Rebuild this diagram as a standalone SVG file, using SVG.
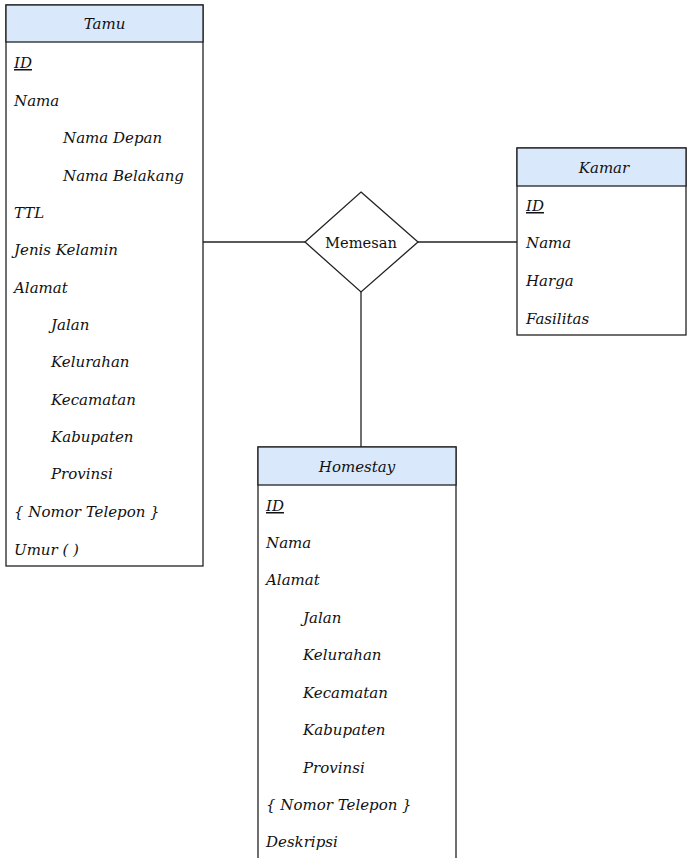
<svg xmlns="http://www.w3.org/2000/svg" width="687" height="858" viewBox="0 0 687 858">
  <style>
    .box { fill: #ffffff; stroke: #222222; stroke-width: 1.3; }
    .head { fill: #dae8fc; stroke: #222222; stroke-width: 1.3; }
    .t { font-family: "DejaVu Serif", "Liberation Serif", serif; font-style: italic; font-size: 15px; fill: #111111; }
    .h { text-anchor: middle; }
    .u { text-decoration: underline; }
    .rel { font-family: "DejaVu Serif", "Liberation Serif", serif; font-size: 14.7px; fill: #111111; text-anchor: middle; }
    .ln { stroke: #222222; stroke-width: 1.3; fill: none; }
  </style>

  <g id="connectors">
    <line class="ln" x1="203" y1="242" x2="305" y2="242"/>
    <line class="ln" x1="418" y1="242" x2="517" y2="242"/>
    <line class="ln" x1="361" y1="292" x2="361" y2="447"/>
  </g>

  <g id="tamu">
    <rect class="box" x="6" y="5" width="197" height="561"/>
    <rect class="head" x="6" y="5" width="197" height="37"/>
    <text class="t h" x="104.5" y="29">Tamu</text>
    <text class="t u" x="14" y="68">ID</text>
    <text class="t" x="14" y="106">Nama</text>
    <text class="t" x="63" y="143">Nama Depan</text>
    <text class="t" x="63" y="181">Nama Belakang</text>
    <text class="t" x="14" y="218">TTL</text>
    <text class="t" x="14" y="255">Jenis Kelamin</text>
    <text class="t" x="14" y="293">Alamat</text>
    <text class="t" x="51" y="330">Jalan</text>
    <text class="t" x="51" y="367">Kelurahan</text>
    <text class="t" x="51" y="405">Kecamatan</text>
    <text class="t" x="51" y="442">Kabupaten</text>
    <text class="t" x="51" y="479">Provinsi</text>
    <text class="t" x="14" y="517">{ Nomor Telepon }</text>
    <text class="t" x="14" y="555">Umur ( )</text>
  </g>

  <g id="kamar">
    <rect class="box" x="517" y="148" width="169" height="187"/>
    <rect class="head" x="517" y="148" width="169" height="38"/>
    <text class="t h" x="604" y="173">Kamar</text>
    <text class="t u" x="526" y="211">ID</text>
    <text class="t" x="526" y="248">Nama</text>
    <text class="t" x="526" y="286">Harga</text>
    <text class="t" x="526" y="324">Fasilitas</text>
  </g>

  <g id="memesan">
    <polygon class="box" points="361,192 418,242 361,292 305,242"/>
    <text class="rel" x="361" y="248">Memesan</text>
  </g>

  <g id="homestay">
    <rect class="box" x="258" y="447" width="198" height="430"/>
    <rect class="head" x="258" y="447" width="198" height="38"/>
    <text class="t h" x="357" y="472">Homestay</text>
    <text class="t u" x="266" y="511">ID</text>
    <text class="t" x="266" y="548">Nama</text>
    <text class="t" x="266" y="585">Alamat</text>
    <text class="t" x="303" y="623">Jalan</text>
    <text class="t" x="303" y="660">Kelurahan</text>
    <text class="t" x="303" y="698">Kecamatan</text>
    <text class="t" x="303" y="735">Kabupaten</text>
    <text class="t" x="303" y="773">Provinsi</text>
    <text class="t" x="266" y="810">{ Nomor Telepon }</text>
    <text class="t" x="266" y="847">Deskripsi</text>
  </g>
</svg>
